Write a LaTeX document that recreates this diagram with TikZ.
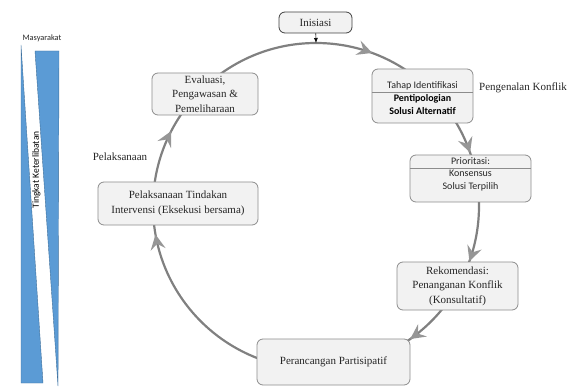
\documentclass[tikz,border=0pt]{standalone}
\usepackage{fontspec}
\setmainfont{Liberation Serif}
\newfontfamily\calib{Carlito}
\usetikzlibrary{arrows.meta,decorations.markings}
\definecolor{ringgray}{HTML}{808080}
\definecolor{tipgray}{HTML}{969696}
\definecolor{boxfill}{HTML}{F2F2F2}
\definecolor{boxline}{HTML}{8C8C8C}
\definecolor{barblue}{HTML}{5B9BD5}
\definecolor{baredge}{HTML}{41719C}
\begin{document}
\begin{tikzpicture}[x=1pt,y=-1pt,
  stagebox/.style={draw=boxline, fill=boxfill, rounded corners=6pt, line width=0.8pt,
    inner sep=0pt, align=center, text=black!85, font=\fontsize{11}{14.5}\selectfont},
  sanstext/.style={inner sep=0pt, align=center, text=black!85, font=\calib\fontsize{10}{12.2}\selectfont},
  sansbold/.style={inner sep=0pt, align=center, text=black, font=\calib\bfseries\fontsize{10}{12.2}\selectfont},
  serifnote/.style={inner sep=0pt, text=black!85, font=\fontsize{11}{13}\selectfont},
]
\useasboundingbox (0,0) rectangle (572,387);

% participation bars
\fill[barblue, draw=baredge, line width=0.4pt] (21,45) -- (21,383) -- (43,383) -- cycle;
\fill[barblue, draw=baredge, line width=0.4pt] (35,51) -- (59,51) -- (58,386) -- cycle;
\node[inner sep=0pt, font=\calib\fontsize{8.3}{9}\selectfont, text=black!85] (masy) at (42,38) {Masyarakat};
\node[inner sep=0pt, rotate=90, font=\calib\fontsize{9.5}{10}\selectfont, text=black] (tingkat) at (36.5,170) {Tingkat Keterlibatan};

% cycle ring
\draw[ringgray, line width=2.2pt, postaction={decorate},
  decoration={markings,
    mark=at position 0.056 with {\arrow[tipgray]{Stealth[length=15pt,width=15pt,inset=5.5pt]}},
    mark=at position 0.197 with {\arrow[tipgray]{Stealth[length=15pt,width=15pt,inset=5.5pt]}},
    mark=at position 0.305 with {\arrow[tipgray]{Stealth[length=15pt,width=15pt,inset=5.5pt]}},
    mark=at position 0.402 with {\arrow[tipgray]{Stealth[length=15pt,width=15pt,inset=5.5pt]}},
    mark=at position 0.722 with {\arrow[tipgray]{Stealth[length=15pt,width=15pt,inset=5.5pt]}},
    mark=at position 0.826 with {\arrow[tipgray]{Stealth[length=15pt,width=15pt,inset=5.5pt]}}}]
  (316,43) arc[start angle=90, end angle=-270, radius=163pt];
\coordinate (ringtop) at (316,43);

% stage boxes
\node[stagebox, draw=black!75, minimum width=73pt, minimum height=21pt] (ini) at (315.5,22.5) {Inisiasi};
\draw[-{Latex[length=5pt,width=4pt]}, line width=0.6pt, black] (ini) -- (ringtop);

\node[stagebox, minimum width=101pt, minimum height=54pt] (tahap) at (422.5,96) {};
\coordinate (tdiv) at (0,92.5);
\draw[boxline, line width=0.7pt] (tahap.west |- tdiv) -- (tahap.east |- tdiv);
\node[sanstext] (tahapA) at (422.5,85.5) {Tahap Identifikasi};
\node[sansbold] (tahapB) at (422.5,104.5) {Pentipologian\\Solusi Alternatif};

\node[stagebox, minimum width=121pt, minimum height=47pt] (prio) at (470.5,178.5) {};
\coordinate (pdiv) at (0,168);
\draw[boxline, line width=0.7pt] (prio.west |- pdiv) -- (prio.east |- pdiv);
\node[sanstext] (prioA) at (470.5,161.5) {Prioritasi:};
\node[sanstext] (prioB) at (470.5,180.5) {Konsensus\\Solusi Terpilih};

\node[stagebox, minimum width=121pt, minimum height=48pt] (rek) at (457.5,286) {Rekomendasi:\\Penanganan Konflik\\(Konsultatif)};
\node[stagebox, minimum width=153pt, minimum height=46pt] (peran) at (333.5,362) {Perancangan Partisipatif};
\node[stagebox, minimum width=160pt, minimum height=43pt] (pelak) at (178,203.5) {Pelaksanaan Tindakan\\Intervensi (Eksekusi bersama)};
\node[stagebox, minimum width=106pt, minimum height=42pt] (eval) at (205,94) {Evaluasi,\\Pengawasan \&\\Pemeliharaan};

% side labels
\node[serifnote] (pengenalan) at (523,88) {Pengenalan Konflik};
\node[serifnote] (pelaksanaan) at (120,157) {Pelaksanaan};
\end{tikzpicture}
\end{document}
